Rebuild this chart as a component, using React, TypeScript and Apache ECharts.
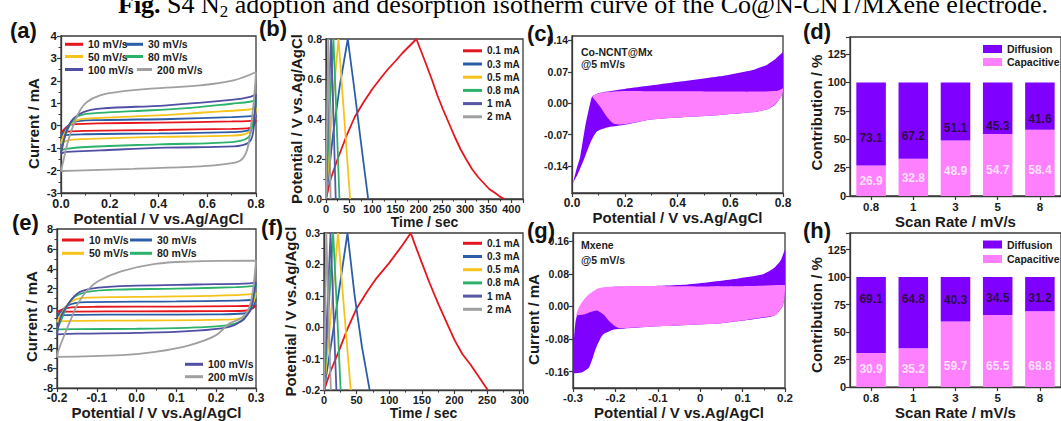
import React, { useEffect, useRef } from "react";
import * as echarts from "echarts";

const SANS = "'Liberation Sans', Arial, Helvetica, sans-serif";
const SERIF = "'Liberation Serif', 'Times New Roman', serif";
const INK = "#1b1b1b";
const FRAME = "#3a3a3a";
const PURPLE = "#8000ff";
const PINK = "#ff80ff";

// ---------- CV series names / colours ----------
const cvNames = ["10 mV/s", "30 mV/s", "50 mV/s", "80 mV/s", "100 mV/s", "200 mV/s"];
const cvColors = ["#e5161d", "#2c5ea8", "#f6c31b", "#2db26b", "#4f4fa3", "#a0a0a0"];

// ---------- (a) CV curves ----------
const cvA10 = [[0,-0.33],[0.01,-0.2],[0.03,0],[0.06,0.07],[0.15,0.1],[0.4,0.14],[0.7,0.19],[0.78,0.22],[0.8,0.25],[0.795,0.1],[0.785,-0.05],[0.765,-0.12],[0.7,-0.14],[0.4,-0.19],[0.1,-0.23],[0.02,-0.27],[0,-0.33]];
const cvA30 = [[0,-0.5],[0.01,-0.3],[0.035,0.05],[0.07,0.2],[0.16,0.25],[0.45,0.3],[0.7,0.38],[0.78,0.43],[0.8,0.48],[0.795,0.25],[0.783,-0.05],[0.765,-0.22],[0.7,-0.29],[0.4,-0.34],[0.1,-0.38],[0.02,-0.42],[0,-0.5]];
const cvA50 = [[0,-0.8],[0.01,-0.45],[0.035,0],[0.07,0.26],[0.16,0.35],[0.4,0.46],[0.6,0.6],[0.75,0.7],[0.8,0.78],[0.795,0.4],[0.783,-0.05],[0.765,-0.33],[0.7,-0.44],[0.4,-0.5],[0.15,-0.58],[0.03,-0.65],[0,-0.8]];
const cvA80 = [[0,-1.1],[0.01,-0.7],[0.035,0],[0.07,0.42],[0.13,0.55],[0.3,0.65],[0.5,0.77],[0.7,0.98],[0.78,1.08],[0.8,1.16],[0.795,0.6],[0.783,-0.1],[0.765,-0.55],[0.7,-0.73],[0.4,-0.83],[0.1,-0.95],[0.02,-1.03],[0,-1.1]];
const cvA100 = [[0,-1.25],[0.003,-1.1],[0.023,-0.21],[0.05,0.31],[0.092,0.61],[0.16,0.76],[0.434,0.91],[0.708,1.16],[0.78,1.3],[0.8,1.4],[0.793,0.24],[0.784,-0.5],[0.763,-0.8],[0.708,-0.92],[0.434,-0.98],[0.16,-1.1],[0.023,-1.17],[0,-1.25]];
const cvA200 = [[0,-2.02],[0.01,-1.55],[0.03,-0.65],[0.058,0.24],[0.078,0.68],[0.105,1.05],[0.16,1.35],[0.229,1.5],[0.366,1.65],[0.571,1.8],[0.708,2.02],[0.8,2.39],[0.79,0.98],[0.777,-0.2],[0.763,-1.1],[0.736,-1.55],[0.68,-1.7],[0.571,-1.81],[0.297,-1.92],[0.092,-1.99],[0,-2.02]];

// ---------- (e) CV curves ----------
const cvE10 = [[-0.2,-0.35],[-0.19,-0.15],[-0.175,0.05],[-0.15,0.15],[-0.1,0.18],[0.1,0.2],[0.25,0.24],[0.29,0.28],[0.3,0.32],[0.295,0.1],[0.285,-0.1],[0.27,-0.22],[0.2,-0.26],[0,-0.28],[-0.15,-0.3],[-0.195,-0.32],[-0.2,-0.35]];
const cvE30 = [[-0.2,-0.75],[-0.19,-0.3],[-0.175,0.25],[-0.155,0.55],[-0.12,0.65],[0.1,0.72],[0.25,0.8],[0.29,0.86],[0.3,0.95],[0.295,0.4],[0.285,-0.2],[0.27,-0.5],[0.2,-0.58],[0,-0.61],[-0.15,-0.63],[-0.195,-0.68],[-0.2,-0.75]];
const cvE50 = [[-0.2,-1.35],[-0.19,-0.6],[-0.175,0.3],[-0.155,0.9],[-0.12,1.1],[0.1,1.22],[0.25,1.35],[0.29,1.45],[0.3,1.55],[0.295,0.8],[0.283,-0.3],[0.27,-0.9],[0.22,-1.12],[0,-1.2],[-0.15,-1.23],[-0.195,-1.28],[-0.2,-1.35]];
const cvE80 = [[-0.2,-2.15],[-0.19,-1.2],[-0.175,0.2],[-0.155,1.2],[-0.12,1.7],[-0.05,1.9],[0.1,2.0],[0.25,2.15],[0.29,2.25],[0.3,2.4],[0.295,1.3],[0.285,0],[0.27,-1.0],[0.24,-1.6],[0.15,-1.9],[0,-2.03],[-0.15,-2.07],[-0.195,-2.1],[-0.2,-2.15]];
const cvE100 = [[-0.2,-2.6],[-0.19,-0.8],[-0.172,0.45],[-0.155,1.3],[-0.138,1.75],[-0.096,2.1],[0,2.3],[0.15,2.42],[0.27,2.5],[0.3,2.6],[0.295,1.6],[0.288,0],[0.275,-0.8],[0.266,-1.2],[0.23,-1.87],[0.13,-2.27],[0,-2.45],[-0.15,-2.53],[-0.2,-2.6]];
const cvE200 = [[-0.2,-4.85],[-0.197,-4.3],[-0.18,-2.53],[-0.163,-0.88],[-0.146,0.62],[-0.121,1.94],[-0.096,2.77],[-0.037,3.76],[0.047,4.49],[0.13,4.72],[0.3,4.82],[0.292,1.77],[0.283,0.12],[0.266,-0.88],[0.232,-1.54],[0.199,-2.7],[0.132,-3.7],[0.047,-4.36],[-0.037,-4.69],[-0.2,-4.85]];

// ---------- GCD names / colours ----------
const gcdNames = ["0.1 mA", "0.3 mA", "0.5 mA", "0.8 mA", "1 mA", "2 mA"];
const gcdColors = ["#e5161d", "#2c5ea8", "#f6c31b", "#2db26b", "#5757a6", "#a0a0a0"];

// ---------- (b) GCD curves ----------
const gcdB01 = [[0,0],[5,0.05],[10,0.1],[25,0.2],[45,0.32],[62,0.41],[80,0.48],[100,0.55],[120,0.61],[134,0.65],[150,0.69],[165,0.73],[180,0.765],[195,0.8],[205,0.74],[215,0.68],[228,0.6],[240,0.52],[252,0.45],[265,0.38],[278,0.31],[290,0.25],[302,0.2],[315,0.15],[328,0.11],[340,0.08],[352,0.05],[365,0.03],[375,0.012],[385,0]];
const gcdB03 = [[0,0],[15,0.32],[30,0.57],[47,0.8],[60,0.57],[75,0.29],[91,0]];
const gcdB05 = [[0,0],[13,0.45],[27,0.8],[38,0.45],[52,0]];
const gcdB08 = [[0,0],[8,0.45],[16,0.8],[22,0.45],[29,0]];
const gcdB1 = [[0,0],[5,0.45],[11,0.8],[16,0.42],[21,0]];
const gcdB2 = [[0,0],[2.5,0.45],[5,0.8],[7.5,0.4],[10,0]];

// ---------- (f) GCD curves ----------
const gcdF01 = [[0,-0.2],[5,-0.17],[10,-0.14],[22,-0.08],[35,-0.01],[50,0.06],[65,0.11],[80,0.155],[100,0.205],[118,0.255],[133,0.3],[140,0.26],[150,0.205],[162,0.14],[175,0.075],[188,0.015],[200,-0.04],[212,-0.085],[225,-0.12],[238,-0.16],[251,-0.2]];
const gcdF03 = [[0,-0.2],[12,-0.04],[24,0.13],[36,0.3],[47,0.1],[58,-0.06],[70,-0.2]];
const gcdF05 = [[0,-0.2],[11,0.05],[21.5,0.3],[31,0.05],[41,-0.2]];
const gcdF08 = [[0,-0.2],[7,0.05],[14,0.3],[20,0.05],[25.5,-0.2]];
const gcdF1 = [[0,-0.2],[5,0.05],[10,0.3],[14.5,0.05],[19,-0.2]];
const gcdF2 = [[0,-0.2],[1.8,0.05],[3.5,0.3],[7,0.05],[10.5,-0.2]];

// ---------- (c) Co-NCNT@Mx @5 mV/s: total CV and capacitive part ----------
const totalC = [[0,-0.181],[0.006,-0.172],[0.018,-0.145],[0.031,-0.119],[0.05,-0.052],[0.062,-0.018],[0.069,0.0],[0.076,0.015],[0.09,0.02],[0.12,0.025],[0.2,0.032],[0.37,0.045],[0.56,0.06],[0.69,0.075],[0.74,0.086],[0.77,0.098],[0.8,0.113],[0.8,0.034],[0.797,0.02],[0.785,0.008],[0.77,-0.003],[0.745,-0.012],[0.7,-0.019],[0.56,-0.026],[0.3,-0.036],[0.195,-0.0485],[0.132,-0.054],[0.094,-0.063],[0.069,-0.089],[0.044,-0.127],[0.02,-0.16],[0,-0.181]];
const capC = [[0.076,0.015],[0.09,0.02],[0.12,0.0245],[0.2,0.0275],[0.3,0.027],[0.45,0.027],[0.6,0.026],[0.7,0.026],[0.78,0.028],[0.8,0.033],[0.8,0.026],[0.795,0.017],[0.785,0.008],[0.77,-0.002],[0.745,-0.012],[0.7,-0.019],[0.56,-0.026],[0.3,-0.036],[0.195,-0.047],[0.157,-0.045],[0.132,-0.03],[0.107,-0.008],[0.09,0.005],[0.076,0.015]];
const cTicksY = [-0.14, -0.07, 0, 0.07, 0.14];

// ---------- (g) Mxene @5 mV/s ----------
const totalG = [[-0.3,-0.164],[-0.298,-0.085],[-0.294,-0.037],[-0.29,-0.02],[-0.278,0.005],[-0.262,0.028],[-0.24,0.043],[-0.2,0.048],[-0.15,0.049],[-0.03,0.054],[0.087,0.068],[0.146,0.078],[0.165,0.088],[0.178,0.098],[0.19,0.113],[0.2,0.138],[0.2,0.05],[0.198,0.015],[0.193,-0.002],[0.185,-0.013],[0.178,-0.021],[0.162,-0.026],[0.05,-0.041],[-0.11,-0.049],[-0.19,-0.055],[-0.207,-0.058],[-0.23,-0.07],[-0.245,-0.1],[-0.262,-0.149],[-0.28,-0.162],[-0.3,-0.164]];
const capG = [[-0.293,-0.022],[-0.286,-0.002],[-0.275,0.016],[-0.262,0.03],[-0.238,0.045],[-0.2,0.049],[-0.119,0.05],[0.0,0.049],[0.126,0.05],[0.2,0.052],[0.2,0.04],[0.198,0.015],[0.193,-0.002],[0.185,-0.013],[0.178,-0.021],[0.162,-0.025],[0.05,-0.041],[-0.11,-0.049],[-0.19,-0.053],[-0.2,-0.049],[-0.214,-0.037],[-0.228,-0.02],[-0.243,-0.01],[-0.257,-0.013],[-0.275,-0.02],[-0.293,-0.022]];
const gTicksY = [-0.16, -0.08, 0, 0.08, 0.16];

// ---------- (d) / (h) contribution bars ----------
const rateCats = ["0.8", "1", "3", "5", "8"];
const capD = [26.9, 32.8, 48.9, 54.7, 58.4];
const difD = [73.1, 67.2, 51.1, 45.3, 41.6];
const capLabelAtD = [13.4, 15.8, 22.3, 23, 23];
const difLabelAtD = [51.5, 52.7, 60, 62, 67.6];
const capH = [30.9, 35.2, 59.7, 65.5, 68.8];
const difH = [69.1, 64.8, 40.3, 34.5, 31.2];
const capLabelAtH = [16.8, 16.8, 18.8, 18.8, 18.8];
const difLabelAtH = [79.8, 79.8, 78.9, 80.7, 80.7];

const cvA = [cvA10, cvA30, cvA50, cvA80, cvA100, cvA200];
const cvE = [cvE10, cvE30, cvE50, cvE80, cvE100, cvE200];
const gcdB = [gcdB01, gcdB03, gcdB05, gcdB08, gcdB1, gcdB2];
const gcdF = [gcdF01, gcdF03, gcdF05, gcdF08, gcdF1, gcdF2];

const fmt1 = (v: number) => (Math.abs(v) < 1e-9 ? "0.0" : v.toFixed(1));
const fmt2 = (v: number) => (Math.abs(v) < 1e-9 ? "0.00" : v.toFixed(2));

function nameStyle(fs: number, padding?: number[]): any {
  const s: any = { fontFamily: SANS, fontWeight: "bold", fontSize: fs, color: INK };
  if (padding) s.padding = padding;
  return s;
}

function valueAxis(gi: number, extra: any): any {
  const { axisLabel, axisTick, minorTick, ...rest } = extra;
  return {
    type: "value",
    gridIndex: gi,
    axisLine: { show: true, onZero: false, lineStyle: { color: FRAME, width: 1.3 } },
    axisTick: { show: true, inside: false, length: 4, lineStyle: { color: FRAME, width: 1.2 }, ...(axisTick || {}) },
    minorTick: { show: true, splitNumber: 2, length: 2.5, lineStyle: { color: FRAME, width: 1 }, ...(minorTick || {}) },
    splitLine: { show: false },
    minorSplitLine: { show: false },
    nameLocation: "middle",
    nameTextStyle: nameStyle(15),
    axisLabel: { fontFamily: SANS, fontWeight: "bold", fontSize: 12, color: INK, margin: 4, ...(axisLabel || {}) },
    ...rest,
  };
}

function catAxis(gi: number, extra: any): any {
  const { axisLabel, ...rest } = extra;
  return {
    type: "category",
    gridIndex: gi,
    data: rateCats,
    axisLine: { show: true, onZero: false, lineStyle: { color: FRAME, width: 1.3 } },
    axisTick: { show: true, alignWithLabel: true, length: 4, lineStyle: { color: FRAME, width: 1.2 } },
    splitLine: { show: false },
    nameLocation: "middle",
    nameTextStyle: nameStyle(15),
    axisLabel: { fontFamily: SANS, fontWeight: "bold", fontSize: 11.5, color: INK, margin: 5, ...(axisLabel || {}) },
    ...rest,
  };
}

function cvLine(name: string, data: number[][], gi: number, color: string): any {
  return {
    type: "line", name, data, xAxisIndex: gi, yAxisIndex: gi,
    symbol: "none", showSymbol: false, smooth: 0.4, clip: true,
    lineStyle: { color, width: 1.8 }, itemStyle: { color }, silent: true,
  };
}

function gcdLine(name: string, data: number[][], gi: number, color: string): any {
  return {
    type: "line", name, data, xAxisIndex: gi, yAxisIndex: gi,
    symbol: "none", showSymbol: false, smooth: false, clip: true,
    lineStyle: { color, width: 1.8 }, itemStyle: { color }, silent: true,
  };
}

function area(points: number[][], gi: number, color: string, z: number): any {
  return {
    type: "custom", xAxisIndex: gi, yAxisIndex: gi, data: points, z, clip: true, silent: true,
    encode: { x: 0, y: 1 },
    renderItem: (params: any, api: any) => {
      if (params.dataIndex !== 0) return null;
      const pts = points.map((p) => api.coord(p));
      return { type: "polygon", shape: { points: pts, smooth: 0.2 }, style: { fill: color, stroke: "none" } };
    },
  };
}

function barSet(gi: number, stack: string, cap: number[], dif: number[], capAt: number[], difAt: number[]): any[] {
  return [
    { type: "bar", name: "Capacitive", stack, data: cap, xAxisIndex: gi, yAxisIndex: gi, barWidth: "70%", itemStyle: { color: PINK }, silent: true },
    { type: "bar", name: "Diffusion", stack, data: dif, xAxisIndex: gi, yAxisIndex: gi, barWidth: "70%", itemStyle: { color: PURPLE }, silent: true },
    {
      type: "scatter", data: capAt, xAxisIndex: gi, yAxisIndex: gi, symbolSize: 0, z: 6, silent: true,
      itemStyle: { color: "transparent" },
      label: { show: true, position: "inside", formatter: (p: any) => cap[p.dataIndex].toFixed(1), fontFamily: SANS, fontWeight: "bold", fontSize: 12, color: "#ffffff" },
    },
    {
      type: "scatter", data: difAt, xAxisIndex: gi, yAxisIndex: gi, symbolSize: 0, z: 6, silent: true,
      itemStyle: { color: "transparent" },
      label: { show: true, position: "inside", formatter: (p: any) => dif[p.dataIndex].toFixed(1), fontFamily: SANS, fontWeight: "bold", fontSize: 12, color: "#111111" },
    },
  ];
}

function leg(name: string, left: number, cy: number, w: number, h: number, fs: number): any {
  return {
    data: [name], left, top: cy - 6, orient: "horizontal", icon: "rect",
    itemWidth: w, itemHeight: h, padding: 0, itemGap: 0, selectedMode: false,
    textStyle: { fontFamily: SANS, fontWeight: "bold", fontSize: fs, color: INK, lineHeight: 12 },
  };
}

function label(text: string, x: number, cy: number): any {
  return { type: "text", x, y: cy, style: { text, fill: "#111", font: `bold 22px ${SANS}`, verticalAlign: "middle", align: "left" }, z: 100 };
}

function note(text: string, x: number, cy: number): any {
  return { type: "text", x, y: cy, style: { text, fill: "#222", font: `bold 10.5px ${SANS}`, verticalAlign: "middle", align: "left" }, z: 100 };
}

function buildOption(): any {
  const gridBase = { show: true, borderColor: FRAME, borderWidth: 1.3, backgroundColor: "transparent", containLabel: false };
  const grid = [
    { left: 61, top: 36, width: 195, height: 157 },
    { left: 326, top: 39, width: 197, height: 160 },
    { left: 572, top: 36, width: 211, height: 157 },
    { left: 850, top: 37, width: 213, height: 159 },
    { left: 57, top: 229, width: 199, height: 161 },
    { left: 324, top: 233, width: 199, height: 159 },
    { left: 573, top: 233, width: 212, height: 157 },
    { left: 850, top: 233, width: 213, height: 160 },
  ].map((g) => ({ ...gridBase, ...g }));

  const xAxis = [
    valueAxis(0, { min: 0, max: 0.8, interval: 0.2, name: "Potential / V vs.Ag/AgCl", nameGap: 15, axisLabel: { formatter: fmt1, fontSize: 12.5 } }),
    valueAxis(1, { min: 0, max: 425, interval: 50, name: "Time / sec", nameGap: 12, nameTextStyle: nameStyle(14), axisLabel: { fontSize: 11, formatter: (v: number) => (v % 50 === 0 ? String(v) : "") } }),
    valueAxis(2, { min: 0, max: 0.8, interval: 0.2, name: "Potential / V vs.Ag/AgCl", nameGap: 15, axisLabel: { formatter: fmt1, fontSize: 12 } }),
    catAxis(3, { name: "Scan Rate / mV/s", nameGap: 14 }),
    valueAxis(4, { min: -0.2, max: 0.3, interval: 0.1, name: "Potential / V vs.Ag/AgCl", nameGap: 12, axisLabel: { formatter: fmt1, fontSize: 12 } }),
    valueAxis(5, { min: 0, max: 305, interval: 50, name: "Time / sec", nameGap: 11, nameTextStyle: nameStyle(14), axisLabel: { fontSize: 11, formatter: (v: number) => (v % 50 === 0 ? String(v) : "") } }),
    valueAxis(6, { min: -0.3, max: 0.2, interval: 0.1, name: "Potential / V vs.Ag/AgCl", nameGap: 17, axisLabel: { fontSize: 11.5, formatter: (v: number) => (Math.abs(v) < 1e-9 ? "0" : v.toFixed(1)) } }),
    catAxis(7, { name: "Scan Rate / mV/s", nameGap: 13 }),
  ];

  const yAxis = [
    valueAxis(0, { min: -3, max: 4, interval: 1, name: "Current / mA", nameGap: 20, nameTextStyle: nameStyle(15, [0, 18, 0, 0]), axisLabel: { fontSize: 11.5 } }),
    valueAxis(1, { min: 0, max: 0.8, interval: 0.2, name: "Potential / V vs.Ag/AgCl", nameGap: 20, axisLabel: { formatter: fmt1, fontSize: 10.5 } }),
    valueAxis(2, { min: -0.2, max: 0.15, axisLabel: { customValues: cTicksY, formatter: fmt2, fontSize: 10.5 }, axisTick: { customValues: cTicksY }, minorTick: { show: false } }),
    valueAxis(3, { min: 0, max: 140, interval: 25, name: "Contribution / %", nameGap: 22, nameTextStyle: nameStyle(15, [0, 0, 0, 8]), minorTick: { show: false }, axisLabel: { fontSize: 11, formatter: (v: number) => (v % 25 === 0 && v <= 125 ? String(v) : "") } }),
    valueAxis(4, { min: -8, max: 8, interval: 2, name: "Current / mA", nameGap: 13, nameTextStyle: nameStyle(15, [0, 16, 0, 0]), axisLabel: { fontSize: 11 } }),
    valueAxis(5, { min: -0.2, max: 0.3, interval: 0.1, name: "Potential / V vs.Ag/AgCl", nameGap: 19, axisLabel: { formatter: fmt1, fontSize: 10.5 } }),
    valueAxis(6, { min: -0.2, max: 0.18, name: "Current / mA", nameGap: 29, nameTextStyle: nameStyle(15, [0, 18, 0, 0]), axisLabel: { customValues: gTicksY, formatter: fmt2, fontSize: 10.5 }, axisTick: { customValues: gTicksY }, minorTick: { show: false } }),
    valueAxis(7, { min: 0, max: 140, interval: 25, name: "Contribution / %", nameGap: 26, nameTextStyle: nameStyle(15, [0, 10, 0, 0]), minorTick: { show: false }, axisLabel: { fontSize: 11, formatter: (v: number) => (v % 25 === 0 && v <= 125 ? String(v) : "") } }),
  ];

  const series: any[] = [];
  cvA.forEach((d, i) => series.push(cvLine(cvNames[i], d, 0, cvColors[i])));
  gcdB.forEach((d, i) => series.push(gcdLine(gcdNames[i], d, 1, gcdColors[i])));
  series.push(area(totalC, 2, PURPLE, 2), area(capC, 2, PINK, 3));
  series.push(...barSet(3, "d", capD, difD, capLabelAtD, difLabelAtD));
  cvE.forEach((d, i) => series.push(cvLine(cvNames[i], d, 4, cvColors[i])));
  gcdF.forEach((d, i) => series.push(gcdLine(gcdNames[i], d, 5, gcdColors[i])));
  series.push(area(totalG, 6, PURPLE, 2), area(capG, 6, PINK, 3));
  series.push(...barSet(7, "h", capH, difH, capLabelAtH, difLabelAtH));

  const legend = [
    // (a)
    leg(cvNames[0], 65, 44.3, 18, 3, 10.5), leg(cvNames[1], 125, 44.3, 18, 3, 10.5),
    leg(cvNames[2], 65, 56.5, 18, 3, 10.5), leg(cvNames[3], 125, 56.5, 18, 3, 10.5),
    leg(cvNames[4], 65, 69.5, 18, 3, 10.5), leg(cvNames[5], 137, 69.5, 15, 3, 10.5),
    // (b)
    ...gcdNames.map((n, i) => leg(n, 463, 50.8 + i * 13.2, 19, 3, 10)),
    // (d)
    leg("Diffusion", 983, 49, 19, 8, 10.5), leg("Capacitive", 983, 62, 19, 8, 10.5),
    // (e)
    leg(cvNames[0], 62, 240, 22, 3, 10.5), leg(cvNames[1], 130, 240, 22, 3, 10.5),
    leg(cvNames[2], 62, 253.3, 22, 3, 10.5), leg(cvNames[3], 130, 253.3, 22, 3, 10.5),
    leg(cvNames[4], 185, 364.3, 18, 3, 10.5), leg(cvNames[5], 185, 376.7, 18, 3, 10.5),
    // (f)
    ...gcdNames.map((n, i) => leg(n, 463, 243.3 + i * 13.2, 19, 3, 10)),
    // (h)
    leg("Diffusion", 983, 244.5, 19, 8, 10.5), leg("Capacitive", 983, 259, 19, 8, 10.5),
  ];

  const graphic = [
    {
      type: "text", x: 118, y: -9, z: 100,
      style: {
        text: "{b|Fig.}{n| S4 N}{s|2}{n| adoption and desorption isotherm curve of the Co@N-CNT/MXene electrode.}",
        fill: "#000",
        font: `26px ${SERIF}`,
        verticalAlign: "top",
        rich: {
          b: { fontFamily: SERIF, fontSize: 26, fontWeight: "bold", lineHeight: 26, verticalAlign: "top", fill: "#000" },
          n: { fontFamily: SERIF, fontSize: 26, lineHeight: 26, verticalAlign: "top", fill: "#000" },
          s: { fontFamily: SERIF, fontSize: 17, lineHeight: 17, padding: [12, 0, 0, 0], verticalAlign: "top", fill: "#000" },
        },
      },
    },
    label("(a)", 10, 30), label("(b)", 259, 28.5), label("(c)", 527, 33), label("(d)", 803, 31.5),
    label("(e)", 12, 222.5), label("(f)", 261, 227.5), label("(g)", 527, 230), label("(h)", 803, 230),
    note("Co-NCNT@Mx", 581, 51.7), note("@5 mV/s", 581, 63.5),
    note("Mxene", 581, 245), note("@5 mV/s", 581, 259.7),
  ];

  return {
    animation: false,
    backgroundColor: "#ffffff",
    textStyle: { fontFamily: SANS },
    grid, xAxis, yAxis, series, legend, graphic,
  };
}

export default function App() {
  const ref = useRef<HTMLDivElement>(null);
  useEffect(() => {
    const chart = echarts.init(ref.current as HTMLDivElement, null, { renderer: "svg" });
    chart.setOption(buildOption());
    return () => chart.dispose();
  }, []);
  return <div ref={ref} style={{ position: "absolute", left: 0, top: 0, width: 1061, height: 421, background: "#fff" }} />;
}
